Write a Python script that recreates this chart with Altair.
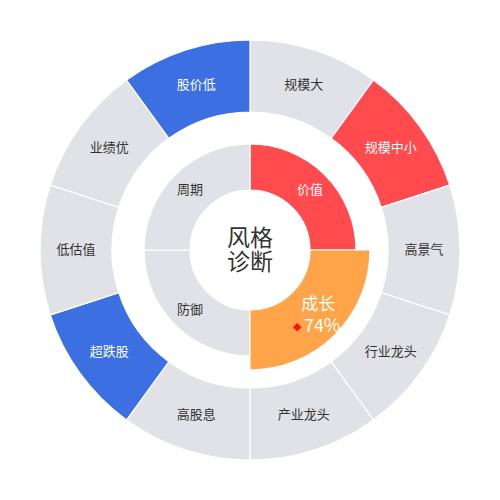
import altair as alt
import pandas as pd
import math

outer_names = ["规模大", "规模中小", "高景气", "行业龙头", "产业龙头",
               "高股息", "超跌股", "低估值", "业绩优", "股价低"]
outer_state = ["中性", "偏好", "中性", "中性", "中性",
               "中性", "回避", "中性", "中性", "回避"]
inner_names = ["价值", "成长", "防御", "周期"]
inner_state = ["偏好", "选中", "中性", "中性"]
focus_pct = "74%"
center_lines = ["风格", "诊断"]

outer_df = pd.DataFrame({"name": outer_names, "state": outer_state,
                         "idx": list(range(len(outer_names))), "v": 1})
inner_df = pd.DataFrame({"name": inner_names, "state": inner_state,
                         "idx": list(range(len(inner_names))), "v": 1})

FONT = "Noto Sans CJK SC"
theta_scale = alt.Scale(domain=[0, 1], range=[0, 2 * math.pi])
color_scale = alt.Scale(domain=["偏好", "回避", "中性", "选中"],
                        range=["#FF4B4E", "#3C6FE1", "#E1E2E7", "#FFA448"])
text_color = alt.condition(alt.datum.state == "中性", alt.value("#333333"), alt.value("#FFFFFF"))


def stacked(df):
    return (alt.Chart(df)
            .transform_stack(stack="v", groupby=[], as_=["s", "e"], offset="normalize",
                             sort=[alt.SortField("idx", order="ascending")])
            .transform_calculate(mid="(datum.s + datum.e) / 2"))


outer = stacked(outer_df)
inner = stacked(inner_df)

outer_arcs = outer.mark_arc(stroke="white", strokeWidth=1.2).encode(
    theta=alt.Theta("s:Q", scale=theta_scale),
    theta2="e:Q",
    radius=alt.value(210), radius2=alt.value(138),
    color=alt.Color("state:N", scale=color_scale, legend=None),
)
outer_text = outer.mark_text(font=FONT, fontSize=13, baseline="middle").encode(
    theta=alt.Theta("mid:Q", scale=theta_scale),
    radius=alt.value(174),
    text="name:N",
    color=text_color,
)

inner_arcs = inner.transform_filter(alt.datum.state != "选中").mark_arc(
    stroke="white", strokeWidth=1.2).encode(
    theta=alt.Theta("s:Q", scale=theta_scale),
    theta2="e:Q",
    radius=alt.value(106), radius2=alt.value(60),
    color=alt.Color("state:N", scale=color_scale, legend=None),
)
focus_arc = inner.transform_filter(alt.datum.state == "选中").mark_arc(
    stroke="white", strokeWidth=1.2).encode(
    theta=alt.Theta("s:Q", scale=theta_scale),
    theta2="e:Q",
    radius=alt.value(120), radius2=alt.value(60),
    color=alt.Color("state:N", scale=color_scale, legend=None),
)
inner_text = inner.transform_filter(alt.datum.state != "选中").mark_text(
    font=FONT, fontSize=13, baseline="middle").encode(
    theta=alt.Theta("mid:Q", scale=theta_scale),
    radius=alt.value(85),
    text="name:N",
    color=text_color,
)
focus = inner.transform_filter(alt.datum.state == "选中")
focus_name_text = focus.mark_text(font=FONT, fontSize=17, baseline="middle",
                                  color="white", dx=1, dy=-12).encode(
    theta=alt.Theta("mid:Q", scale=theta_scale),
    radius=alt.value(95),
    text="name:N",
)
focus_pct_text = focus.transform_calculate(pct=f"'{focus_pct}'").mark_text(
    font=FONT, fontSize=18, baseline="middle", color="white", dx=5, dy=10).encode(
    theta=alt.Theta("mid:Q", scale=theta_scale),
    radius=alt.value(95),
    text="pct:N",
)
focus_marker = focus.transform_calculate(sym="'◆'").mark_text(
    font="DejaVu Sans", fontSize=11, baseline="middle", color="#FF1010", dx=-20, dy=10).encode(
    theta=alt.Theta("mid:Q", scale=theta_scale),
    radius=alt.value(95),
    text="sym:N",
)

center_df = pd.DataFrame({"t": center_lines, "row": [0, 1]})
center = alt.Chart(center_df).mark_text(
    font=FONT, fontSize=23, baseline="middle", color="#333333").encode(
    x=alt.value(242),
    y=alt.Y("row:Q", scale=alt.Scale(domain=[0, 1], range=[231, 255]), axis=None),
    text="t:N")

chart = alt.layer(
    outer_arcs, outer_text, inner_arcs, focus_arc, inner_text,
    focus_name_text, focus_pct_text, focus_marker, center,
).properties(
    width=484, height=484, padding=0,
    autosize=alt.AutoSizeParams(type="none"),
).configure_view(stroke=None)

chart.save("out.html", embed_options={"renderer": "svg", "actions": False})
